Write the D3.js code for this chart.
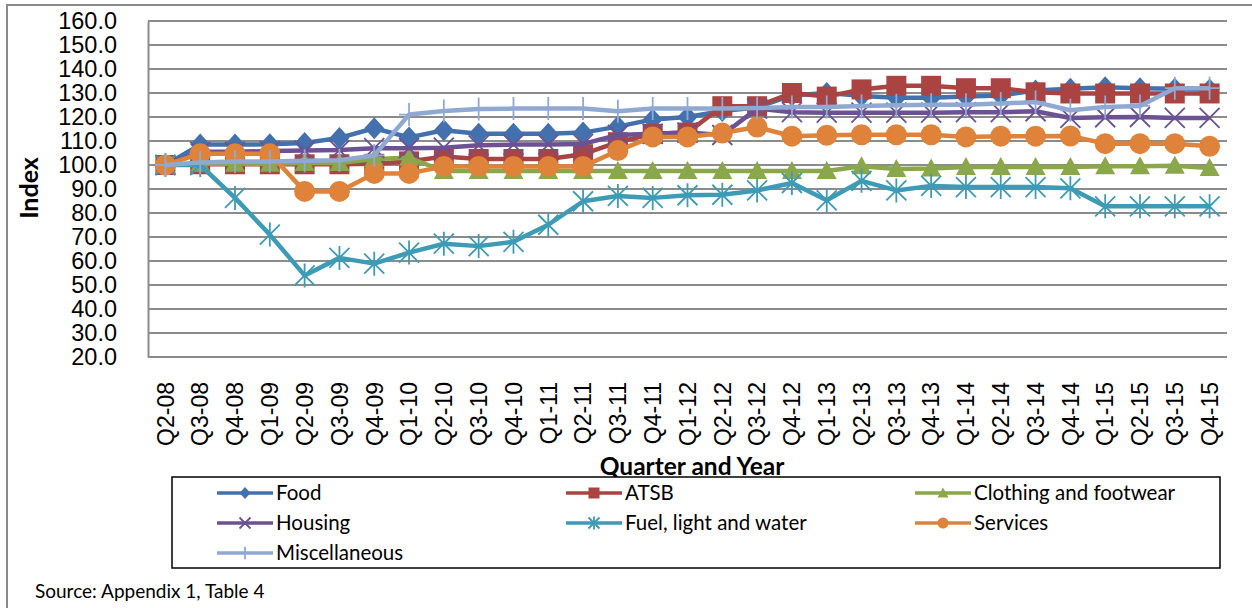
<!DOCTYPE html>
<html>
<head>
<meta charset="utf-8">
<script src="https://cdn.jsdelivr.net/npm/d3@7"></script>
<style>
  body { margin: 0; background: #fff; }
  svg { display: block; }
</style>
</head>
<body>
<svg id="chart"></svg>
<script>
const quarters = ["Q2-08", "Q3-08", "Q4-08", "Q1-09", "Q2-09", "Q3-09", "Q4-09", "Q1-10",
  "Q2-10", "Q3-10", "Q4-10", "Q1-11", "Q2-11", "Q3-11", "Q4-11", "Q1-12", "Q2-12", "Q3-12",
  "Q4-12", "Q1-13", "Q2-13", "Q3-13", "Q4-13", "Q1-14", "Q2-14", "Q3-14", "Q4-14", "Q1-15",
  "Q2-15", "Q3-15", "Q4-15"];

const food = [100, 108.5, 108.5, 108.6, 109.2, 111.3, 115.3, 111.5, 114.5, 113, 113, 113, 113.5,
  116, 119, 120, 122.5, 124, 129, 130, 128.8, 128, 128, 128.5, 129, 131, 131.8, 132.4, 132, 131.8, 131.5];
const atsb = [100, 100.3, 100.3, 100.3, 100.3, 100.3, 100.5, 101.5, 103.5, 102.5, 102.5, 102.5, 104.5,
  109.5, 113, 113.5, 124.5, 124.5, 130, 128.5, 131.5, 133, 133, 132, 132, 130.3, 129.8, 129.8, 129.8, 129.8, 129.8];
const clothing = [100, 100.5, 100.5, 100.5, 100.8, 100.8, 102.5, 103, 97.5, 97.5, 97.5, 97.5, 97.5,
  97.5, 97.5, 97.5, 97.5, 97.5, 97.5, 97.5, 99.5, 98.3, 98.5, 99.2, 99.2, 99.2, 99.2, 99.5, 99.5, 99.7, 98.7];
const housing = [100, 105.5, 105.5, 105.8, 106, 106.2, 107, 107, 107.2, 108.2, 108.5, 108.5, 108.8,
  112.5, 113, 113.5, 112.5, 123.5, 122, 121.8, 121.8, 121.8, 121.8, 122, 122, 122.4, 119.6, 119.9, 120, 119.6, 119.6];
const fuel = [100, 100, 86.3, 71, 54, 61.3, 58.9, 63.5, 67.2, 66.2, 68, 75.1, 84.9,
  87.1, 86.3, 87.4, 87.6, 89.4, 92.5, 85.3, 93.4, 89.4, 91.3, 90.8, 90.8, 90.8, 90.3, 82.8, 82.8, 82.8, 82.8];
const services = [100, 104.7, 104.7, 104.7, 89, 89, 96.5, 96.5, 99.4, 99.4, 99.4, 99.4, 99.4,
  106, 111.7, 111.7, 113.3, 115.8, 112, 112.4, 112.6, 112.6, 112.6, 111.7, 112, 112, 112.1, 108.9, 108.9, 108.9, 107.8];
const misc = [100, 101, 101.5, 101.5, 101.8, 102, 104, 121, 122.5, 123.3, 123.5, 123.5, 123.5,
  122.4, 123.5, 123.5, 123.5, 123.7, 124.2, 124.2, 124.6, 124.9, 125.1, 125.1, 125.6, 126.2, 122.8, 124.2, 124.6, 132, 132];

const seriesNames = ["Food", "ATSB", "Clothing and footwear", "Housing", "Fuel, light and water", "Services", "Miscellaneous"];
const yTicks = d3.range(20, 161, 10);

const config = {
  width: 1252,
  height: 608,
  plotLeft: 148,
  plotRight: 1227,
  plotTop: 21,
  plotBottom: 357,
  gridColor: "#8c8c8c",
  fontFamily: "Lato, 'Liberation Sans', sans-serif",
  tickFont: "'Liberation Sans', Arial, sans-serif",
  lineWidth: 4.5,
};

// colour + marker per series, same order as seriesNames
const styles = [
  { color: "#4271ad", marker: "diamond" },
  { color: "#a94442", marker: "square" },
  { color: "#8aa84b", marker: "triangle" },
  { color: "#6c5193", marker: "cross" },
  { color: "#3d9bb6", marker: "star" },
  { color: "#e0833a", marker: "circle" },
  { color: "#8fa9d3", marker: "plus" },
];

const seriesValues = [food, atsb, clothing, housing, fuel, services, misc];

const svg = d3.select("#chart")
  .attr("width", config.width)
  .attr("height", config.height);

// outer chart frame (only top/left visible in the crop)
svg.append("rect")
  .attr("x", 7).attr("y", 5)
  .attr("width", 1400).attr("height", 800)
  .attr("fill", "#fff")
  .attr("stroke", "#8a8a8a")
  .attr("stroke-width", 2);

const x = d3.scaleBand()
  .domain(quarters)
  .range([config.plotLeft, config.plotRight])
  .padding(0);

const y = d3.scaleLinear()
  .domain([20, 160])
  .range([config.plotBottom, config.plotTop]);

const cx = (d) => x(d) + x.bandwidth() / 2;

// gridlines
svg.append("g")
  .selectAll("line")
  .data(yTicks)
  .join("line")
  .attr("x1", config.plotLeft)
  .attr("x2", config.plotRight)
  .attr("y1", (d) => y(d))
  .attr("y2", (d) => y(d))
  .attr("stroke", config.gridColor)
  .attr("stroke-width", 2);

// y axis
const yAxis = svg.append("g")
  .attr("transform", `translate(${config.plotLeft},0)`)
  .call(d3.axisLeft(y).tickValues(yTicks).tickFormat(d3.format(".1f")).tickSize(0).tickPadding(31));
yAxis.select(".domain").attr("stroke", config.gridColor).attr("stroke-width", 2);
yAxis.selectAll("text")
  .attr("font-family", config.tickFont)
  .attr("font-size", 23.5)
  .attr("fill", "#000");

// x axis labels, rotated
const xAxis = svg.append("g")
  .attr("transform", `translate(0,${config.plotBottom})`)
  .call(d3.axisBottom(x).tickSize(0));
xAxis.select(".domain").remove();
xAxis.selectAll("text")
  .attr("font-family", config.tickFont)
  .attr("font-size", 23)
  .attr("fill", "#000")
  .attr("transform", "rotate(-90)")
  .attr("text-anchor", "end")
  .attr("x", -25)
  .attr("y", 0)
  .attr("dy", "0.36em");

// marker paths
function markerPath(type, s) {
  const h = s / 2;
  switch (type) {
    case "diamond":
      return `M0,${-h * 1.1}L${h},0L0,${h * 1.1}L${-h},0Z`;
    case "square":
      return `M${-h},${-h}H${h}V${h}H${-h}Z`;
    case "triangle":
      return `M0,${-h}L${h},${h * 0.8}L${-h},${h * 0.8}Z`;
    case "cross":
      return `M${-h},${-h}L${h},${h}M${-h},${h}L${h},${-h}`;
    case "star":
      return `M${-h},${-h}L${h},${h}M${-h},${h}L${h},${-h}M0,${-h * 1.2}V${h * 1.2}`;
    case "plus":
      return `M0,${-h * 1.15}V${h * 1.15}M${-h},0H${h}`;
  }
  return "";
}

function drawMarker(g, style, px, py, s) {
  if (style.marker === "circle") {
    g.append("circle").attr("cx", px).attr("cy", py).attr("r", s / 2).attr("fill", style.color);
    return;
  }
  const open = ["cross", "star", "plus"].includes(style.marker);
  g.append("path")
    .attr("d", markerPath(style.marker, s))
    .attr("transform", `translate(${px},${py})`)
    .attr("fill", open ? "none" : style.color)
    .attr("stroke", open ? style.color : "none")
    .attr("stroke-width", open ? 1.8 : 0);
}

// series lines + markers
const line = d3.line()
  .x((d, i) => cx(quarters[i]))
  .y((d) => y(d));

const seriesG = svg.append("g").attr("class", "series");
seriesValues.forEach((vals, k) => {
  const st = styles[k];
  const g = seriesG.append("g");
  g.append("path")
    .attr("d", line(vals))
    .attr("fill", "none")
    .attr("stroke", st.color)
    .attr("stroke-width", config.lineWidth)
    .attr("stroke-linejoin", "round");
  vals.forEach((v, i) => {
    drawMarker(g, st, cx(quarters[i]), y(v), st.marker === "circle" ? 21 : 20);
  });
});

// axis titles
svg.append("text")
  .attr("x", 692).attr("y", 475)
  .attr("text-anchor", "middle")
  .attr("font-family", config.fontFamily)
  .attr("font-weight", "bold")
  .attr("font-size", 24.5)
  .text("Quarter and Year");

svg.append("text")
  .attr("transform", "translate(38,188) rotate(-90)")
  .attr("text-anchor", "middle")
  .attr("font-family", config.fontFamily)
  .attr("font-weight", "bold")
  .attr("font-size", 25)
  .text("Index");

// legend
const legend = svg.append("g");
legend.append("rect")
  .attr("x", 172).attr("y", 477)
  .attr("width", 1048).attr("height", 91)
  .attr("fill", "#fff")
  .attr("stroke", "#000")
  .attr("stroke-width", 1.5);

const legendCols = [217, 566, 915];
const legendRows = [493, 523, 553];
seriesNames.forEach((name, k) => {
  const lx = legendCols[k % 3];
  const ly = legendRows[Math.floor(k / 3)];
  const st = styles[k];
  const item = legend.append("g");
  item.append("line")
    .attr("x1", lx).attr("x2", lx + 56)
    .attr("y1", ly).attr("y2", ly)
    .attr("stroke", st.color)
    .attr("stroke-width", 3.5);
  drawMarker(item, st, lx + 28, ly, 11);
  item.append("text")
    .attr("x", lx + 59).attr("y", ly)
    .attr("dy", "0.35em")
    .attr("font-family", config.fontFamily)
    .attr("font-size", 20.5)
    .text(name);
});

svg.append("text")
  .attr("x", 35).attr("y", 598)
  .attr("font-family", config.fontFamily)
  .attr("font-size", 19)
  .text("Source: Appendix 1, Table 4");
</script>
</body>
</html>
